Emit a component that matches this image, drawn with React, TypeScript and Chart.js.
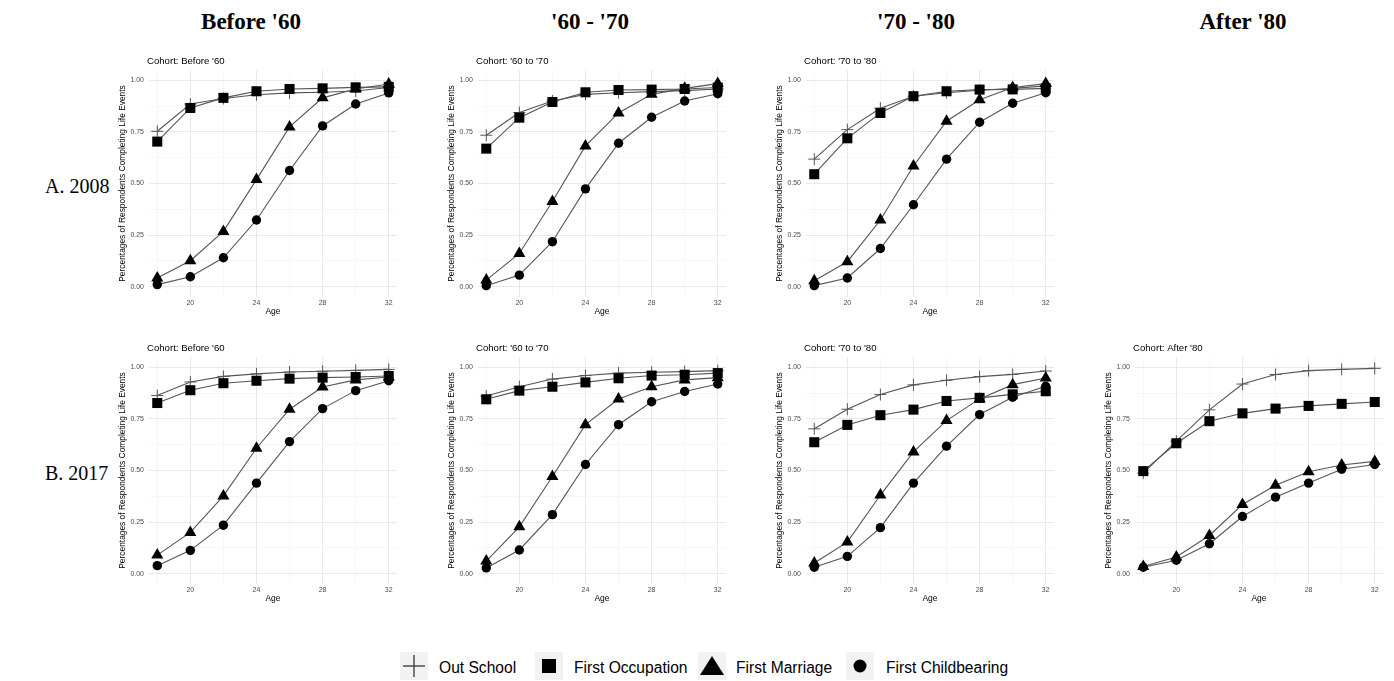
import React, { useEffect, useRef } from "react";
import { Chart, registerables } from "chart.js";

Chart.register(...registerables);

// ---------- data ----------
const ages = [18, 20, 22, 24, 26, 28, 30, 32];
const seriesNames = ["Out School", "First Occupation", "First Marriage", "First Childbearing"];
const columnHeaders = ["Before '60", "'60 - '70", "'70 - '80", "After '80"];
const rowLabels = ["A. 2008", "B. 2017"];
const cohortTitles = ["Cohort: Before '60", "Cohort: '60 to '70", "Cohort: '70 to '80", "Cohort: After '80"];
const xTickLabels = [20, 24, 28, 32];
const yTickLabels = [0, 0.25, 0.5, 0.75, 1];
const xAxisTitle = "Age";
const yAxisTitle = "Percentages of Respondents Completing Life Events";

// A. 2008
const y2008Before60OutSchool = [0.753, 0.885, 0.912, 0.93, 0.939, 0.942, 0.948, 0.965];
const y2008Before60Occupation = [0.703, 0.866, 0.915, 0.947, 0.958, 0.961, 0.966, 0.968];
const y2008Before60Marriage = [0.042, 0.126, 0.268, 0.519, 0.774, 0.915, 0.958, 0.982];
const y2008Before60Childbearing = [0.01, 0.048, 0.14, 0.323, 0.563, 0.779, 0.885, 0.939];

const y2008c60to70OutSchool = [0.734, 0.844, 0.9, 0.932, 0.94, 0.945, 0.95, 0.958];
const y2008c60to70Occupation = [0.669, 0.819, 0.895, 0.942, 0.953, 0.955, 0.958, 0.965];
const y2008c60to70Marriage = [0.032, 0.161, 0.413, 0.682, 0.842, 0.932, 0.961, 0.984];
const y2008c60to70Childbearing = [0.005, 0.056, 0.218, 0.474, 0.695, 0.821, 0.9, 0.935];

const y2008c70to80OutSchool = [0.618, 0.761, 0.865, 0.923, 0.94, 0.952, 0.961, 0.973];
const y2008c70to80Occupation = [0.545, 0.719, 0.842, 0.923, 0.947, 0.955, 0.956, 0.961];
const y2008c70to80Marriage = [0.029, 0.121, 0.323, 0.585, 0.802, 0.906, 0.965, 0.984];
const y2008c70to80Childbearing = [0.005, 0.042, 0.185, 0.397, 0.618, 0.797, 0.889, 0.94];

// B. 2017
const y2017Before60OutSchool = [0.863, 0.929, 0.956, 0.968, 0.977, 0.981, 0.985, 0.99];
const y2017Before60Occupation = [0.827, 0.889, 0.923, 0.935, 0.945, 0.95, 0.953, 0.958];
const y2017Before60Marriage = [0.09, 0.2, 0.377, 0.608, 0.797, 0.905, 0.939, 0.953];
const y2017Before60Childbearing = [0.039, 0.113, 0.235, 0.439, 0.64, 0.8, 0.887, 0.935];

const y2017c60to70OutSchool = [0.861, 0.906, 0.943, 0.96, 0.972, 0.976, 0.979, 0.984];
const y2017c60to70Occupation = [0.845, 0.887, 0.906, 0.927, 0.947, 0.96, 0.964, 0.972];
const y2017c60to70Marriage = [0.061, 0.227, 0.471, 0.722, 0.846, 0.906, 0.939, 0.95];
const y2017c60to70Childbearing = [0.028, 0.115, 0.286, 0.529, 0.722, 0.833, 0.883, 0.919];

const y2017c70to80OutSchool = [0.702, 0.797, 0.868, 0.915, 0.937, 0.955, 0.966, 0.982];
const y2017c70to80Occupation = [0.637, 0.721, 0.768, 0.795, 0.837, 0.852, 0.869, 0.884];
const y2017c70to80Marriage = [0.052, 0.153, 0.381, 0.59, 0.742, 0.847, 0.916, 0.948];
const y2017c70to80Childbearing = [0.031, 0.084, 0.223, 0.439, 0.618, 0.771, 0.855, 0.908];

const y2017After80OutSchool = [0.487, 0.642, 0.794, 0.919, 0.965, 0.984, 0.99, 0.995];
const y2017After80Occupation = [0.497, 0.632, 0.739, 0.777, 0.8, 0.813, 0.823, 0.832];
const y2017After80Marriage = [0.035, 0.081, 0.185, 0.335, 0.429, 0.494, 0.527, 0.544];
const y2017After80Childbearing = [0.031, 0.065, 0.145, 0.277, 0.371, 0.439, 0.506, 0.529];

// ---------- panels table ----------
const panels = [
  { row: 0, col: 0, series: [y2008Before60OutSchool, y2008Before60Occupation, y2008Before60Marriage, y2008Before60Childbearing] },
  { row: 0, col: 1, series: [y2008c60to70OutSchool, y2008c60to70Occupation, y2008c60to70Marriage, y2008c60to70Childbearing] },
  { row: 0, col: 2, series: [y2008c70to80OutSchool, y2008c70to80Occupation, y2008c70to80Marriage, y2008c70to80Childbearing] },
  { row: 1, col: 0, series: [y2017Before60OutSchool, y2017Before60Occupation, y2017Before60Marriage, y2017Before60Childbearing] },
  { row: 1, col: 1, series: [y2017c60to70OutSchool, y2017c60to70Occupation, y2017c60to70Marriage, y2017c60to70Childbearing] },
  { row: 1, col: 2, series: [y2017c70to80OutSchool, y2017c70to80Occupation, y2017c70to80Marriage, y2017c70to80Childbearing] },
  { row: 1, col: 3, series: [y2017After80OutSchool, y2017After80Occupation, y2017After80Marriage, y2017After80Childbearing] },
];

// ---------- styles ----------
const SANS = '"Liberation Sans", Arial, Helvetica, sans-serif';
const SERIF = '"Liberation Serif", "Times New Roman", Times, serif';
const LINE_COLOR = "#555555";
const markerStyles = [
  { pointStyle: "cross", radius: 6, bg: "rgba(0,0,0,0)", border: "#555555", borderWidth: 1 },
  { pointStyle: "rect", radius: 7.1, bg: "#000000", border: "#000000", borderWidth: 0 },
  { pointStyle: "triangle", radius: 7, bg: "#000000", border: "#000000", borderWidth: 0 },
  { pointStyle: "circle", radius: 4.7, bg: "#000000", border: "#000000", borderWidth: 0 },
];

const CHART_W = 248;
const CHART_H = 227;
const Y_AXIS_W = 31;
const X_AXIS_H = 20;
const TOP_PAD = 20;
const RIGHT_PAD = 8;
const colLefts = [149, 478, 806, 1135];
const rowTops = [70, 357];

const isMajorX = (v: number) => xTickLabels.includes(v);
const isMajorY = (v: number) => yTickLabels.some((t) => Math.abs(t - v) < 1e-6);

const panelTitlePlugin = {
  id: "panelTitle",
  afterDraw(chart: any) {
    const t = chart.options.plugins.panelTitle?.text;
    if (!t) return;
    const ctx = chart.ctx;
    ctx.save();
    ctx.font = `9.6px ${SANS}`;
    ctx.fillStyle = "#000";
    ctx.textBaseline = "middle";
    ctx.textAlign = "left";
    ctx.fillText(t, chart.chartArea.left - 2, chart.chartArea.top - 8.5);
    ctx.restore();
  },
};

function Panel({ title, series, left, top }: { title: string; series: number[][]; left: number; top: number }) {
  const ref = useRef<HTMLCanvasElement | null>(null);
  useEffect(() => {
    if (!ref.current) return;
    const chart = new Chart(ref.current, {
      type: "line",
      data: {
        datasets: series.map((vals, i) => ({
          label: seriesNames[i],
          data: ages.map((a, k) => ({ x: a, y: vals[k] })),
          borderColor: LINE_COLOR,
          borderWidth: 1.1,
          tension: 0,
          fill: false,
          pointStyle: markerStyles[i].pointStyle as any,
          pointRadius: markerStyles[i].radius,
          pointBackgroundColor: markerStyles[i].bg,
          pointBorderColor: markerStyles[i].border,
          pointBorderWidth: markerStyles[i].borderWidth,
          order: 4 - i,
        })),
      },
      options: {
        responsive: false,
        animation: false,
        devicePixelRatio: 1,
        layout: { padding: { top: TOP_PAD, left: 0, right: RIGHT_PAD, bottom: 0 } },
        plugins: {
          legend: { display: false },
          tooltip: { enabled: false },
          title: { display: false },
          panelTitle: { text: title },
        } as any,
        scales: {
          x: {
            type: "linear",
            min: 17.5,
            max: 32.5,
            border: { display: false },
            afterBuildTicks: (scale: any) => {
              scale.ticks = [18, 20, 22, 24, 26, 28, 30, 32].map((v) => ({ value: v }));
            },
            afterFit: (scale: any) => {
              scale.height = X_AXIS_H;
            },
            grid: {
              drawTicks: false,
              color: (c: any) => (isMajorX(c.tick?.value) ? "#e6e6e6" : "#f1f1f1"),
              lineWidth: (c: any) => (isMajorX(c.tick?.value) ? 0.9 : 0.6),
            },
            ticks: {
              padding: 1.5,
              color: "#4d4d4d",
              font: { size: 7, family: SANS },
              maxRotation: 0,
              autoSkip: false,
              callback: (v: any) => (isMajorX(Number(v)) ? String(v) : ""),
            },
            title: {
              display: true,
              text: xAxisTitle,
              color: "#000",
              padding: 0,
              font: { size: 8.5, family: SANS },
            },
          },
          y: {
            type: "linear",
            min: -0.05,
            max: 1.05,
            border: { display: false },
            afterBuildTicks: (scale: any) => {
              scale.ticks = [0, 0.125, 0.25, 0.375, 0.5, 0.625, 0.75, 0.875, 1].map((v) => ({ value: v }));
            },
            afterFit: (scale: any) => {
              scale.width = Y_AXIS_W;
            },
            grid: {
              drawTicks: false,
              color: (c: any) => (isMajorY(c.tick?.value) ? "#e6e6e6" : "#f1f1f1"),
              lineWidth: (c: any) => (isMajorY(c.tick?.value) ? 0.9 : 0.6),
            },
            ticks: {
              padding: 5,
              color: "#4d4d4d",
              font: { size: 7, family: SANS },
              autoSkip: false,
              callback: (v: any) => (isMajorY(Number(v)) ? Number(v).toFixed(2) : ""),
            },
            title: {
              display: true,
              text: yAxisTitle,
              color: "#000",
              padding: 0,
              font: { size: 8.4, family: SANS },
            },
          },
        },
      } as any,
      plugins: [panelTitlePlugin],
    });
    return () => chart.destroy();
  }, []);
  const w = Y_AXIS_W + CHART_W + RIGHT_PAD;
  const h = TOP_PAD + CHART_H + X_AXIS_H;
  return (
    <canvas
      ref={ref}
      width={w}
      height={h}
      style={{ position: "absolute", left: left - Y_AXIS_W, top: top - TOP_PAD, width: w, height: h }}
    />
  );
}

const headerCenters = [251, 590, 916, 1243];
const rowLabelTops = [173, 460];
const legendBoxLefts = [400, 535, 698, 846];
const legendTextLefts = [439, 574, 736, 886];

function LegendGlyph({ i }: { i: number }) {
  if (i === 0)
    return (
      <svg width={28} height={28}>
        <line x1={3} y1={14} x2={25} y2={14} stroke="#333" strokeWidth={1.3} />
        <line x1={14} y1={3} x2={14} y2={25} stroke="#333" strokeWidth={1.3} />
      </svg>
    );
  if (i === 1)
    return (
      <svg width={28} height={28}>
        <rect x={7} y={7} width={14} height={14} fill="#000" />
      </svg>
    );
  if (i === 2)
    return (
      <svg width={28} height={28}>
        <polygon points="14,4 26,23 2,23" fill="#000" />
      </svg>
    );
  return (
    <svg width={28} height={28}>
      <circle cx={14} cy={14} r={6.5} fill="#000" />
    </svg>
  );
}

export default function App() {
  return (
    <div style={{ position: "absolute", left: 0, top: 0, width: 1394, height: 681, background: "#fff", overflow: "hidden" }}>
      {columnHeaders.map((h, i) => (
        <div
          key={h}
          style={{
            position: "absolute",
            left: headerCenters[i] - 100,
            width: 200,
            top: 8,
            lineHeight: "28px",
            textAlign: "center",
            fontFamily: SERIF,
            fontWeight: "bold",
            fontSize: 23,
            color: "#000",
          }}
        >
          {h}
        </div>
      ))}
      {rowLabels.map((r, i) => (
        <div
          key={r}
          style={{
            position: "absolute",
            left: 45,
            top: rowLabelTops[i],
            lineHeight: "26px",
            fontFamily: SERIF,
            fontSize: 20,
            color: "#000",
            whiteSpace: "nowrap",
          }}
        >
          {r}
        </div>
      ))}
      {panels.map((p, i) => (
        <Panel
          key={i}
          title={cohortTitles[p.col]}
          series={p.series}
          left={colLefts[p.col]}
          top={rowTops[p.row]}
        />
      ))}
      {seriesNames.map((n, i) => (
        <React.Fragment key={n}>
          <div
            style={{
              position: "absolute",
              left: legendBoxLefts[i],
              top: 652,
              width: 28,
              height: 28,
              background: "#f2f2f2",
            }}
          >
            <LegendGlyph i={i} />
          </div>
          <div
            style={{
              position: "absolute",
              left: legendTextLefts[i],
              top: 656,
              lineHeight: "24px",
              fontFamily: SANS,
              fontSize: 15.6,
              color: "#000",
              whiteSpace: "nowrap",
            }}
          >
            {n}
          </div>
        </React.Fragment>
      ))}
    </div>
  );
}
